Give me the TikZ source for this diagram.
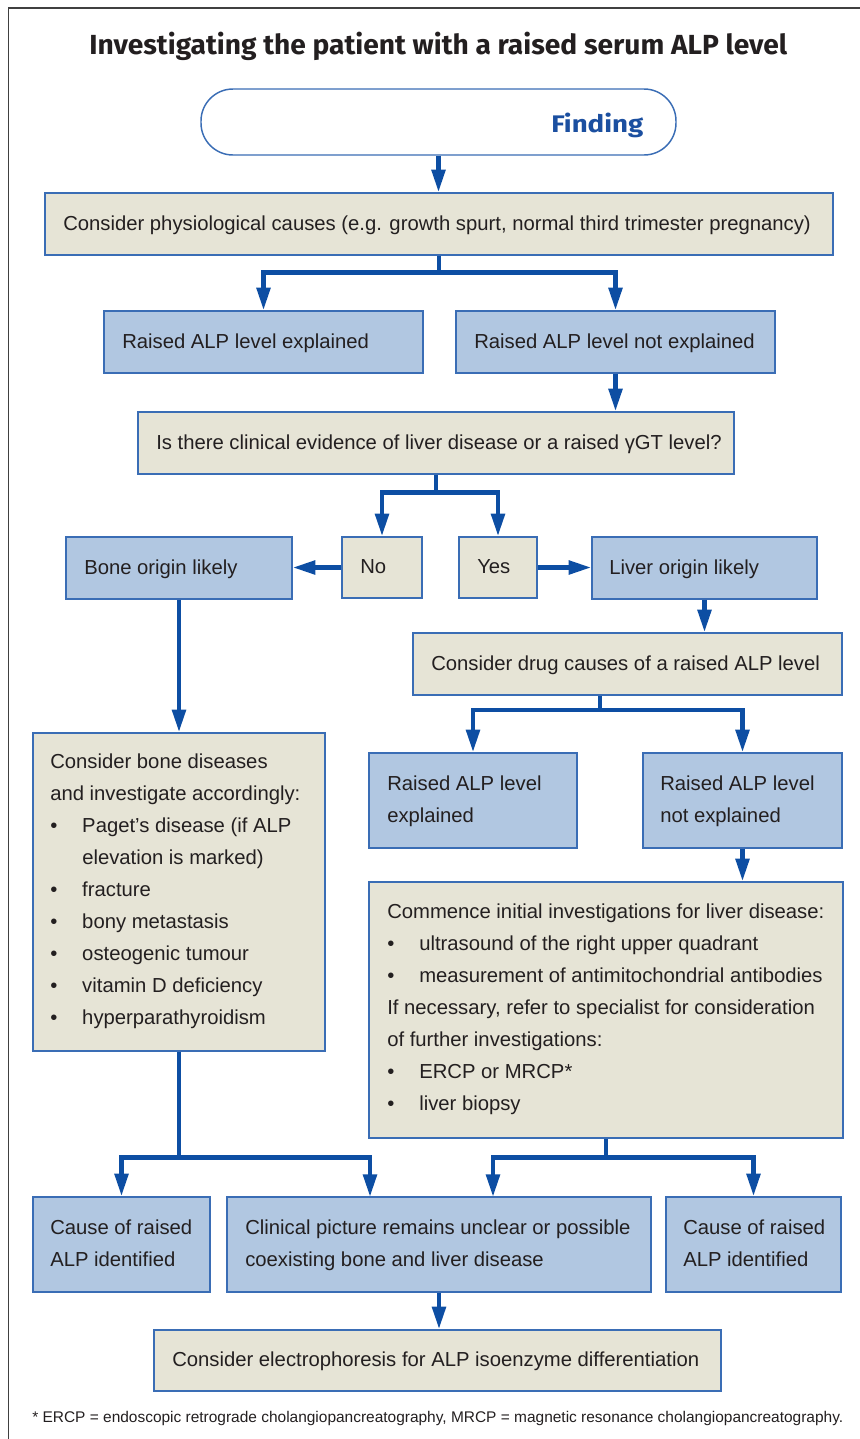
\documentclass[tikz,border=0pt]{standalone}
\usepackage{fontspec}
\setmainfont{Liberation Sans}
\newfontfamily\titlefont{Fira Sans}
\usetikzlibrary{arrows.meta,fit,calc}
\definecolor{bfill}{HTML}{B1C7E1}
\definecolor{yfill}{HTML}{E6E4D6}
\definecolor{bline}{HTML}{3A6DB5}
\definecolor{arrc}{HTML}{0D4EA3}
\definecolor{txtc}{HTML}{231F20}
\definecolor{findc}{HTML}{1B4FA0}
\newcommand{\bul}{\makebox[24pt][l]{•}}
\newcommand{\ind}{\hspace*{24pt}}
\tikzset{
  box/.style={draw=bline, line width=1.1pt, inner sep=0pt},
  bbox/.style={box, fill=bfill},
  ybox/.style={box, fill=yfill},
  txt/.style={inner sep=0pt, anchor=base west, text=txtc, font=\fontsize{15.2pt}{24pt}\selectfont, align=left},
  ln/.style={draw=arrc, line width=3.4pt},
  arr/.style={ln, -{Triangle[length=17pt,width=10pt]}},
  frame/.style={draw=black!75, line width=1.1pt}
}
\begin{document}
\begin{tikzpicture}[x=0.75pt,y=-0.75pt]
\useasboundingbox (0,0) rectangle (860,1439);
\draw[frame] (8.5,1450) -- (8.5,8) -- (870,8);

\node[txt] (title) at (89,54) {\resizebox{523.5pt}{16.8pt}{\titlefont\bfseries Investigating the patient with a raised serum ALP level}};

\node[box, fill=white, rounded corners=24pt, fit={(201,89)(676,155)}] (find) {};
\node[txt, text=findc] (findt) at (551,132) {\resizebox{69pt}{14.6pt}{\titlefont\bfseries Finding}};

\node[ybox, fit={(45,193)(833,255)}] (box1) {};
\node[txt] (t1) at (63,230) {Consider physiological causes (e.g. growth spurt, normal third trimester pregnancy)};

\node[bbox, fit={(104,311)(423,373)}] (b2a) {};
\node[txt] (t2a) at (122,348) {Raised ALP level explained};
\node[bbox, fit={(456,311)(775,373)}] (b2b) {};
\node[txt] (t2b) at (474,348) {Raised ALP level not explained};

\node[ybox, fit={(138,412)(734,474)}] (box3) {};
\node[txt] (t3) at (156,449) {Is there clinical evidence of liver disease or a raised γGT level?};

\node[ybox, fit={(342,537)(422,598)}] (no) {};
\node[txt] (tno) at (360,573.5) {No};
\node[ybox, fit={(459,537)(537,598)}] (yes) {};
\node[txt] (tyes) at (477,573.5) {Yes};
\node[bbox, fit={(66,537)(292,599)}] (bone) {};
\node[txt] (tbone) at (84,574) {Bone origin likely};
\node[bbox, fit={(592,537)(817,599)}] (liver) {};
\node[txt] (tliver) at (609,574) {Liver origin likely};

\node[ybox, fit={(413,633)(842,695)}] (drug) {};
\node[txt] (tdrug) at (431,670) {Consider drug causes of a raised ALP level};

% multi-line texts: base anchor is the last line's baseline
\node[bbox, fit={(369,753)(577,848)}] (e2a) {};
\node[txt] (te2a) at (387,822) {Raised ALP level\\explained};
\node[bbox, fit={(643,753)(842,848)}] (e2b) {};
\node[txt] (te2b) at (660,822) {Raised ALP level\\not explained};

\node[ybox, fit={(369,882)(843,1138)}] (liv) {};
\node[txt] (tliv) at (387,1110) {Commence initial investigations for liver disease:\\
\bul ultrasound of the right upper quadrant\\
\bul measurement of antimitochondrial antibodies\\
If necessary, refer to specialist for consideration\\
of further investigations:\\
\bul ERCP or MRCP*\\
\bul liver biopsy};

\node[ybox, fit={(33,733)(325,1051)}] (bdis) {};
\node[txt] (tbdis) at (50,1024) {Consider bone diseases\\
and investigate accordingly:\\
\bul Paget’s disease (if ALP\\
\ind elevation is marked)\\
\bul fracture\\
\bul bony metastasis\\
\bul osteogenic tumour\\
\bul vitamin D deficiency\\
\bul hyperparathyroidism};

\node[bbox, fit={(33,1197)(210,1292)}] (causeL) {};
\node[txt] (tcauseL) at (50,1266) {Cause of raised\\ALP identified};
\node[bbox, fit={(227,1197)(651,1292)}] (clin) {};
\node[txt] (tclin) at (245,1266) {Clinical picture remains unclear or possible\\coexisting bone and liver disease};
\node[bbox, fit={(666,1197)(841,1292)}] (causeR) {};
\node[txt] (tcauseR) at (683,1266) {Cause of raised\\ALP identified};

\node[ybox, fit={(154,1330)(721,1391)}] (elec) {};
\node[txt] (telec) at (172,1366.5) {Consider electrophoresis for ALP isoenzyme differentiation};

\node[txt] (foot) at (32,1422) {\resizebox{608.25pt}{!}{\fontsize{11pt}{13pt}\selectfont * ERCP = endoscopic retrograde cholangiopancreatography, MRCP = magnetic resonance cholangiopancreatography.}};

% connectors
\draw[arr] (find.south) -- (find.south |- box1.north);
\coordinate (j1) at ($(box1.south)+(0,17)$);
\draw[ln] (box1.south) -- (j1);
\draw[arr] (j1) -| (b2a.north);
\draw[arr] (j1) -| (b2b.north);
\draw[arr] (b2b.south) -- (b2b.south |- box3.north);
\coordinate (j2) at ($(box3.south)+(0,18)$);
\draw[ln] (box3.south) -- (j2);
\draw[arr] (j2) -| (no.north);
\draw[arr] (j2) -| (yes.north);
\draw[arr] (no.west) -- (no.west -| bone.east);
\draw[arr] (yes.east) -- (yes.east -| liver.west);
\draw[arr] (liver.south) -- (liver.south |- drug.north);
\coordinate (j3) at (600,710);
\draw[ln] (j3 |- drug.south) -- (j3);
\draw[arr] (j3) -| (e2a.north);
\draw[arr] (j3) -| (e2b.north);
\draw[arr] (e2b.south) -- (e2b.south |- liv.north);
\draw[arr] (bone.south) -- (bone.south |- bdis.north);
\coordinate (j4) at ($(bdis.south)+(0,106)$);
\coordinate (c370) at (370,1197);
\draw[ln] (bdis.south) -- (j4);
\draw[arr] (j4) -| (causeL.north);
\draw[arr] (j4) -| (c370);
\coordinate (j5) at ($(liv.south)+(0,19)$);
\coordinate (c493) at (493,1197);
\draw[ln] (liv.south) -- (j5);
\draw[arr] (j5) -| (c493);
\draw[arr] (j5) -| (causeR.north);
\draw[arr] (clin.south) -- (clin.south |- elec.north);
\end{tikzpicture}
\end{document}
